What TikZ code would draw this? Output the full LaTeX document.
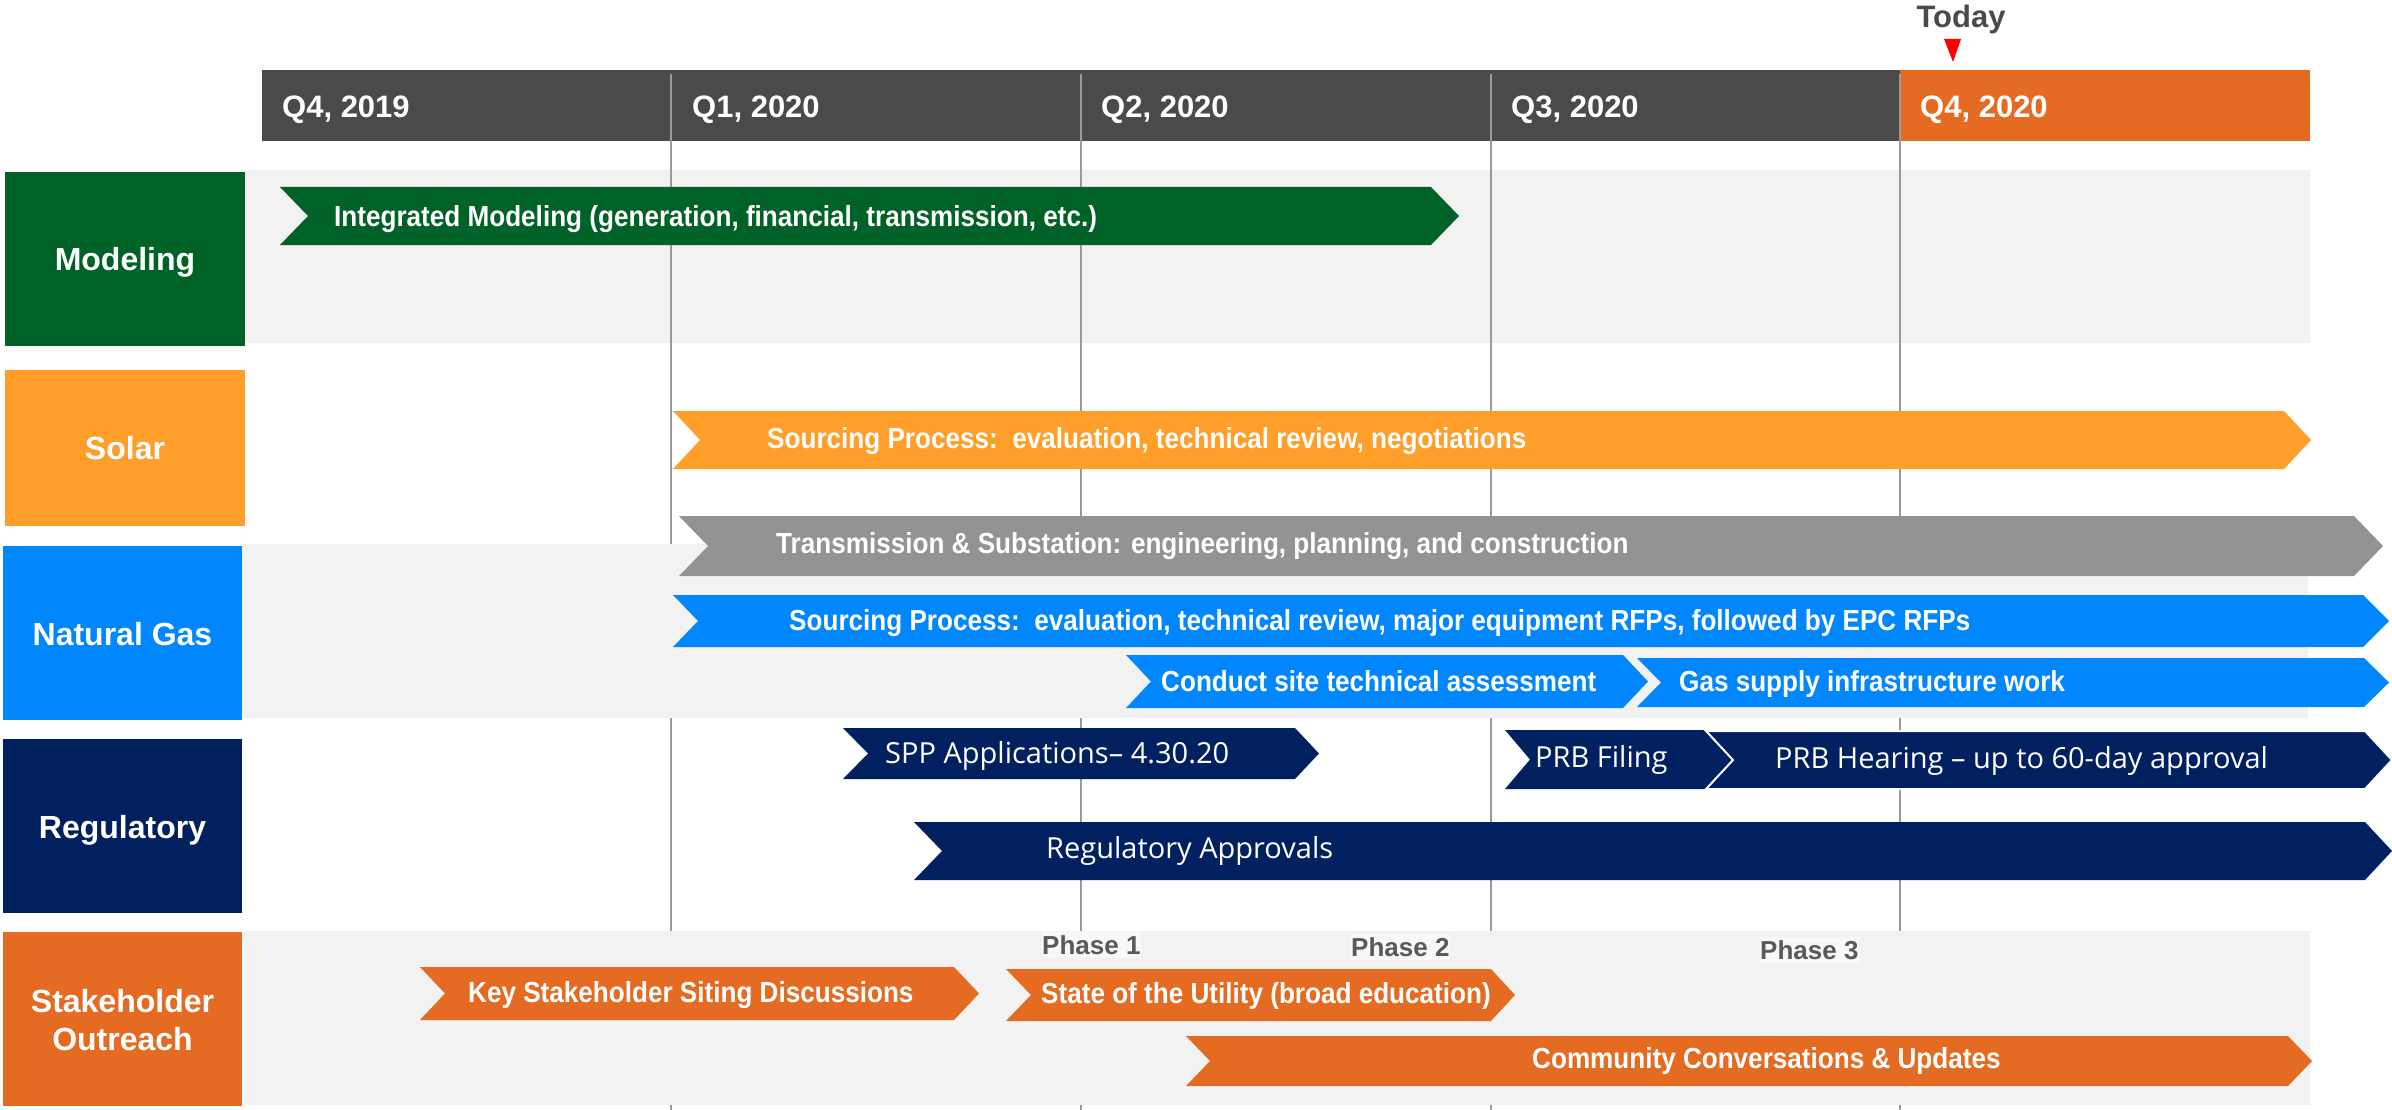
\documentclass[tikz,border=0pt]{standalone}
\usepackage{fontspec}
\setmainfont{Liberation Sans}
\newfontfamily\chevfont[FakeStretch=0.9]{Liberation Sans}
\newfontfamily\regfont{Open Sans}
\definecolor{hdrgray}{HTML}{4A4A4A}
\definecolor{hdrorange}{HTML}{E46B21}
\definecolor{modgreen}{HTML}{006227}
\definecolor{solorange}{HTML}{FF9E28}
\definecolor{trgray}{HTML}{939393}
\definecolor{gasblue}{HTML}{0087FF}
\definecolor{regnavy}{HTML}{002060}
\definecolor{stkorange}{HTML}{E46B21}
\definecolor{bandgray}{HTML}{F2F2F2}
\definecolor{gridgray}{HTML}{9A9A9A}
\definecolor{phasegray}{HTML}{595959}
\definecolor{phasebg}{HTML}{F8F8F8}
\definecolor{todaygray}{HTML}{4A4A4A}
\newcommand\chev[7]{\fill[#1] (#2,#6) -- (#4,#6) -- (#5,{(#6+#7)/2}) -- (#4,#7) -- (#2,#7) -- ({#2+#3},{(#6+#7)/2}) -- cycle;}
\begin{document}
\begin{tikzpicture}[x=1pt,y=-1pt,
  chevtxt/.style={font=\chevfont\bfseries\fontsize{29}{34}\selectfont, text=white, anchor=west, inner sep=0pt, text height=20.8pt, text depth=0pt},
  regtxt/.style={font=\regfont\fontsize{29}{34}\selectfont, text=white, anchor=west, inner sep=0pt, text height=20.8pt, text depth=0pt},
  hdrtxt/.style={font=\bfseries\fontsize{31}{36}\selectfont, text=white, anchor=west, inner sep=0pt, text height=22.2pt, text depth=0pt},
  labbox/.style={draw=none},
  labtxt/.style={font=\bfseries\fontsize{32}{37.3}\selectfont, text=white, align=center, inner sep=0pt},
  phasetxt/.style={font=\bfseries\fontsize{26}{30}\selectfont, text=phasegray, anchor=west, fill=phasebg, inner xsep=0pt, inner ysep=4pt, text height=18.6pt, text depth=0pt},
  grid/.style={draw=gridgray, line width=1.5pt}
]
\useasboundingbox (0,0) rectangle (2392,1110);
% modeling band (lines show through)
\fill[bandgray] (245,170) rectangle (2310,343);
% header
\fill[hdrgray] (262,70) rectangle (1900,141);
\fill[hdrorange] (1900,70) rectangle (2310,141);
% quarter lines
\foreach \q in {671,1081,1491,1900} \draw[grid] (\q,74) -- (\q,1110);
% bands covering lines
\fill[bandgray] (242,544) rectangle (2308,718);
\fill[bandgray] (244,931) rectangle (2310,1105);
% header texts
\node[hdrtxt] (q4a) at (282,106) {Q4, 2019};
\node[hdrtxt] (q1) at (692,106) {Q1, 2020};
\node[hdrtxt] (q2) at (1101,106) {Q2, 2020};
\node[hdrtxt] (q3) at (1511,106) {Q3, 2020};
\node[hdrtxt] (q4b) at (1920,106) {Q4, 2020};
% today
\node[font=\bfseries\fontsize{31}{36}\selectfont, text=todaygray, inner sep=0pt, text height=22.2pt, text depth=0pt] (today) at (1961,16) {Today};
\fill[red] (1944,39) -- (1961,39) -- (1953,62) -- cycle;
% category boxes
\fill[modgreen] (5,172) rectangle (245,346);
\fill[solorange] (5,370) rectangle (245,526);
\fill[gasblue] (3,546) rectangle (242,720);
\fill[regnavy] (3,739) rectangle (242,913);
\fill[stkorange] (3,932) rectangle (242,1106);
\node[labtxt, text height=22.9pt, text depth=0pt] (lmod) at (125,259) {Modeling};
\node[labtxt, text height=22.9pt, text depth=0pt] (lsol) at (125,448) {Solar};
\node[labtxt, text height=22.9pt, text depth=0pt] (lgas) at (122.5,634) {Natural Gas};
\node[labtxt, text height=22.9pt, text depth=0pt] (lreg) at (122.5,827) {Regulatory};
\node[labtxt] (lstk) at (122.5,1020) {Stakeholder\\Outreach};
% chevrons
\chev{modgreen}{280}{28}{1431}{1459}{187}{245}
\chev{solorange}{673}{27}{2284}{2311}{411}{469}
\chev{trgray}{679}{29}{2354}{2383}{516}{576}
\chev{gasblue}{673}{25}{2363}{2389}{595}{647}
\chev{gasblue}{1126}{25}{1623}{1648}{655}{708}
\chev{gasblue}{1637}{24}{2364}{2389}{658}{707}
\chev{regnavy}{843}{25}{1295}{1319}{728}{779}
\chev{regnavy}{1505}{25}{1706}{1733}{730}{789}
\filldraw[regnavy, draw=white, line width=2pt] (1706,731) -- (2365,731) -- (2392,760) -- (2365,789) -- (1706,789) -- (1733,760) -- cycle;
\chev{regnavy}{914}{28}{2365}{2392}{822}{880}
\chev{stkorange}{420}{25}{954}{979}{967}{1020}
\chev{stkorange}{1006}{25}{1491}{1515}{969}{1021}
\chev{stkorange}{1186}{24}{2288}{2312}{1036}{1086}
% chevron texts
\node[chevtxt] (tmod) at (334,216) {Integrated Modeling (generation, financial, transmission, etc.)};
\node[chevtxt] (tsol) at (767,438) {Sourcing Process:\ \ evaluation, technical review, negotiations};
\node[chevtxt] (ttr) at (776,543) {Transmission \& Substation: engineering, planning, and construction};
\node[chevtxt] (tgas) at (789,620) {Sourcing Process:\ \ evaluation, technical review, major equipment RFPs, followed by EPC RFPs};
\node[chevtxt] (tcon) at (1161,681) {Conduct site technical assessment};
\node[chevtxt] (tsup) at (1679,681) {Gas supply infrastructure work};
\node[regtxt] (tspp) at (885,753) {SPP Applications– 4.30.20};
\node[regtxt] (tfil) at (1535,757) {PRB Filing};
\node[regtxt] (thear) at (1775,758) {PRB Hearing – up to 60-day approval};
\node[regtxt] (tappr) at (1046,848) {Regulatory Approvals};
\node[chevtxt] (tkey) at (468,992) {Key Stakeholder Siting Discussions};
\node[chevtxt] (tstate) at (1041,993) {State of the Utility (broad education)};
\node[chevtxt] (tcomm) at (1532,1058) {Community Conversations \& Updates};
% phases
\node[phasetxt] (p1) at (1042,945) {Phase 1};
\node[phasetxt] (p2) at (1351,947) {Phase 2};
\node[phasetxt] (p3) at (1760,950) {Phase 3};
\end{tikzpicture}
\end{document}
